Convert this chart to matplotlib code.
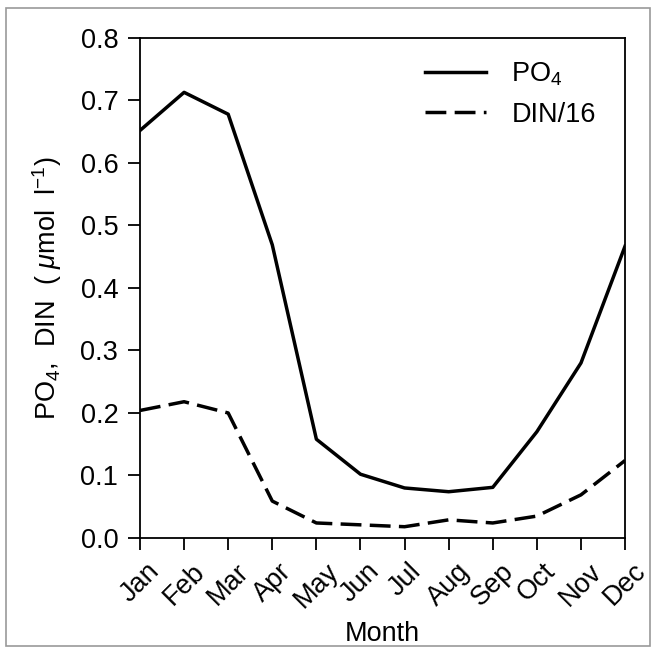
import matplotlib
matplotlib.use("Agg")
import matplotlib.pyplot as plt
from matplotlib.patches import Rectangle

plt.rcParams["font.family"] = ["Liberation Sans", "DejaVu Sans"]
plt.rcParams["mathtext.fontset"] = "custom"
plt.rcParams["mathtext.rm"] = "Liberation Sans"
plt.rcParams["mathtext.it"] = "Liberation Sans:italic"

months = ["Jan", "Feb", "Mar", "Apr", "May", "Jun",
          "Jul", "Aug", "Sep", "Oct", "Nov", "Dec"]
po4 = [0.652, 0.713, 0.678, 0.469, 0.158, 0.102, 0.080, 0.074, 0.081, 0.170, 0.280, 0.467]
din16 = [0.204, 0.218, 0.200, 0.059, 0.024, 0.021, 0.018, 0.029, 0.024, 0.035, 0.069, 0.124]

FS = 19.5

fig = plt.figure(figsize=(6.52, 6.48), dpi=100)
ax = fig.add_axes([0.2147, 0.1698, 0.7440, 0.7716])

x = range(len(months))
ax.plot(x, po4, color="black", lw=2.5, label="PO$_4$")
ax.plot(x, din16, color="black", lw=2.5, ls=(0, (6, 2.4)), label="DIN/16")

ax.set_xlim(0, 11)
ax.set_ylim(0, 0.8)
ax.set_yticks([0.0, 0.1, 0.2, 0.3, 0.4, 0.5, 0.6, 0.7, 0.8])
ax.set_yticklabels([f"{v:.1f}" for v in ax.get_yticks()])
ax.set_xticks(list(x))
ax.set_xticklabels(months, rotation=45, ha="center")
ax.tick_params(labelsize=FS, length=8.6, width=1.3)
ax.tick_params(axis="y", pad=7)
ax.tick_params(axis="x", pad=6)
for s in ax.spines.values():
    s.set_linewidth(1.3)

ax.set_xlabel("Month", fontsize=FS, labelpad=6)
ax.set_ylabel(r"PO$_4$,  DIN  ( $\mu$mol  l$^{-1}$)", fontsize=FS, labelpad=12)

ax.legend(loc="upper right", bbox_to_anchor=(0.94, 0.955), frameon=False,
          fontsize=FS, handlelength=2.26, handletextpad=0.93, borderpad=0,
          borderaxespad=0, labelspacing=0.5)

fig.patches.append(Rectangle((0.009, 0.003), 0.988, 0.985, transform=fig.transFigure,
                             fill=False, edgecolor="#999999", lw=1.2))

fig.savefig("out.png", dpi=100)
